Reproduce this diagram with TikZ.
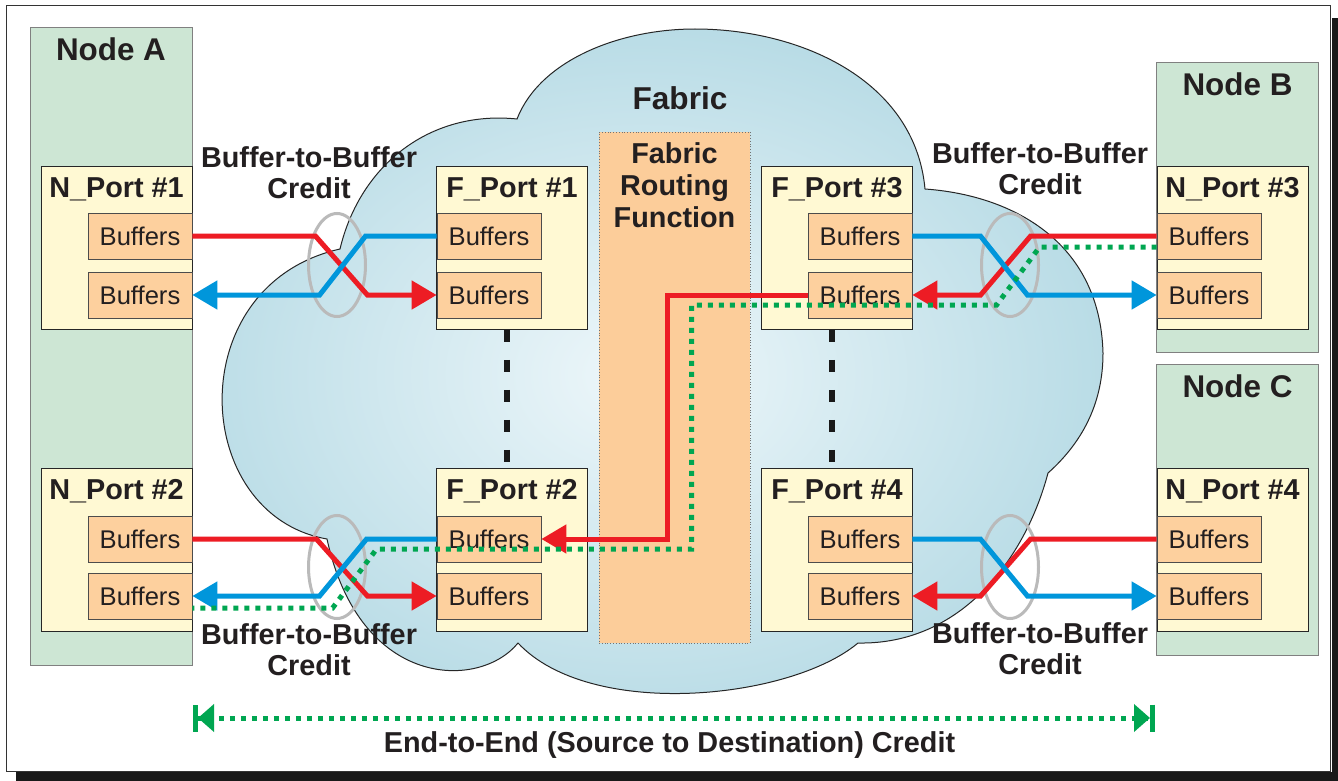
\documentclass[tikz,border=0pt]{standalone}
\usepackage{fontspec}
\setmainfont{Liberation Sans}
\usetikzlibrary{arrows.meta,calc,shapes.geometric}

\definecolor{nodegreen}{HTML}{CDE6D4}
\definecolor{portyellow}{HTML}{FFF9D3}
\definecolor{bufpeach}{HTML}{FDD09E}
\definecolor{routepeach}{HTML}{FCCD9A}
\definecolor{fcred}{HTML}{ED1C24}
\definecolor{fcblue}{HTML}{0096DB}
\definecolor{fcgreen}{HTML}{00A651}
\definecolor{cloudedge}{HTML}{B9DCE6}
\definecolor{cloudmid}{HTML}{EEF7FA}
\definecolor{inkdark}{HTML}{231F20}

\begin{document}
\begin{tikzpicture}[
  x=0.5pt, y=-0.5pt,
  font=\fontsize{14.4}{15.5}\selectfont\bfseries,
  text=inkdark,
  nodebox/.style={draw=black!50, fill=nodegreen, minimum width=81pt, inner sep=0pt},
  nodetitle/.style={anchor=base, yshift=-17pt, font=\fontsize{15.7}{17}\selectfont\bfseries},
  port/.style={draw=black!85, fill=portyellow, minimum width=75.5pt, minimum height=81.5pt, inner sep=0pt},
  porttitle/.style={anchor=base, yshift=-15.6pt},
  buf/.style={draw=black!70, fill=bufpeach, minimum width=52pt, minimum height=23pt, inner sep=0pt, font=\fontsize{12.8}{14}\selectfont},
  credit/.style={draw=black!27, line width=1.5pt, ellipse, minimum width=28.5pt, minimum height=51.5pt, inner sep=0pt},
  flow/.style={line width=2.5pt, -{Triangle[length=12.5pt,width=14pt]}},
  dots/.style={draw=fcgreen, line width=2.5pt, dash pattern=on 2.5pt off 3pt},
  link/.style={draw=black!90, line width=3pt, dash pattern=on 6pt off 9pt},
  e2etip/.style={{Bar[width=13.5pt]Triangle[length=8pt,width=13.5pt]}-{Triangle[length=8pt,width=13.5pt]Bar[width=13.5pt]}}]
\useasboundingbox (0,0) rectangle (1338,781);
% frame with drop shadow
\fill[black!90] (16,18) rectangle (1338,781);
\fill[white] (6,6) rectangle (1332,772);
\draw[black!80, line width=0.5pt] (6,6) rectangle (1330,771);

% the fabric cloud
\shade[draw=black!85, line width=0.5pt, inner color=cloudmid, outer color=cloudedge]
  (340,249) .. controls (360,165) and (430,110) .. (517,119)
  .. controls (540,60) and (620,29) .. (695,29)
  .. controls (800,29) and (915,80) .. (925,189)
  .. controls (1010,195) and (1100,240) .. (1103,353)
  .. controls (1103,400) and (1085,440) .. (1048,473)
  .. controls (1025,560) and (960,645) .. (858,643)
  .. controls (790,700) and (590,720) .. (518,643)
  .. controls (480,690) and (360,690) .. (327,539)
  .. controls (190,515) and (180,285) .. (340,249) -- cycle;
\node[anchor=base, font=\fontsize{15.8}{17}\selectfont\bfseries] (fabric) at (680,110) {Fabric};
\node[draw=black!55, densely dotted, fill=routepeach, minimum width=75.5pt, minimum height=255.5pt, inner sep=0pt,
  label={[anchor=north, inner sep=0pt, yshift=-5.5pt, align=center, font=\fontsize{14.4}{16}\selectfont\bfseries]north:Fabric\\Routing\\Function}] (route) at (674.5,387.5) {};

% nodes
\node[nodebox, minimum height=319pt, label={[nodetitle]north:Node A}] (nodeA) at (111,346) {};
\node[nodebox, minimum height=145pt, label={[nodetitle]north:Node B}] (nodeB) at (1237.5,207) {};
\node[nodebox, minimum height=145.5pt, label={[nodetitle]north:Node C}] (nodeC) at (1237.5,509.5) {};

% ports
\node[port, label={[porttitle]north:N\_Port \#1}] (np1) at (116.5,248) {};
\node[port, label={[porttitle]north:N\_Port \#2}] (np2) at (116.5,550) {};
\node[port, label={[porttitle]north:F\_Port \#1}] (fp1) at (512,248) {};
\node[port, label={[porttitle]north:F\_Port \#2}] (fp2) at (512,550) {};
\node[port, label={[porttitle]north:F\_Port \#3}] (fp3) at (837,248) {};
\node[port, label={[porttitle]north:F\_Port \#4}] (fp4) at (837,550) {};
\node[port, label={[porttitle]north:N\_Port \#3}] (np3) at (1232.5,248) {};
\node[port, label={[porttitle]north:N\_Port \#4}] (np4) at (1232.5,550) {};

% buffers
\node[buf] (np1a) at (140,236) {Buffers};
\node[buf] (np1b) at (140,295) {Buffers};
\node[buf] (np2a) at (140,539) {Buffers};
\node[buf] (np2b) at (140,596) {Buffers};
\node[buf] (fp1a) at (489,236) {Buffers};
\node[buf] (fp1b) at (489,295) {Buffers};
\node[buf] (fp2a) at (489,539) {Buffers};
\node[buf] (fp2b) at (489,596) {Buffers};
\node[buf] (fp3a) at (860,236) {Buffers};
\node[buf] (fp3b) at (860,295) {Buffers};
\node[buf] (fp4a) at (860,539) {Buffers};
\node[buf] (fp4b) at (860,596) {Buffers};
\node[buf] (np3a) at (1209,236) {Buffers};
\node[buf] (np3b) at (1209,295) {Buffers};
\node[buf] (np4a) at (1209,539) {Buffers};
\node[buf] (np4b) at (1209,596) {Buffers};

\draw[link] ($(fp1.south)+(-5,0)$) -- ($(fp2.north)+(-5,0)$);
\draw[link] ($(fp3.south)+(-5,0)$) -- ($(fp4.north)+(-5,0)$);

% buffer-to-buffer credit hops
\node[credit] (hop1) at (337,265) {};
\node[credit] (hop2) at (337,567) {};
\node[credit] (hop3) at (1010,265) {};
\node[credit] (hop4) at (1010,567) {};
\draw[flow, fcred] (np1a.east) -- ++(123,0) -- ++(52,59) -- (fp1b.west);
\draw[flow, fcblue] (fp1a.west) -- ++(-71,0) -- ++(-46,59) -- (np1b.east);
\draw[flow, fcred] (np2a.east) -- ++(124,0) -- ++(51,57) -- (fp2b.west);
\draw[flow, fcblue] (fp2a.west) -- ++(-70,0) -- ++(-47,57) -- (np2b.east);
\draw[flow, fcred] (np3a.west) -- ++(-126,0) -- ++(-50,59) -- (fp3b.east);
\draw[flow, fcblue] (fp3a.east) -- ++(68,0) -- ++(47,59) -- (np3b.west);
\draw[flow, fcred] (np4a.west) -- ++(-126,0) -- ++(-50,57) -- (fp4b.east);
\draw[flow, fcblue] (fp4a.east) -- ++(68,0) -- ++(47,57) -- (np4b.west);

% routed frame through the fabric
\draw[flow, fcred] (fp3b.west) -- ++(-140,0) |- (fp2a.east);
\draw[dots] ($(np3a.west)+(0,11)$) -- ++(-117,0) -- ++(-43,58) -- ++(-305,0) -- ++(0,244)
  -- ++(-315,0) -- ++(-44,59) -- ($(np2b.east)+(0,12)$);

\node[align=center] (b2bA) at (309,172.5) {Buffer-to-Buffer\\Credit};
\node[align=center] (b2bB) at (1040,169) {Buffer-to-Buffer\\Credit};
\node[align=center] (b2bC) at (309,649.5) {Buffer-to-Buffer\\Credit};
\node[align=center] (b2bD) at (1040,649) {Buffer-to-Buffer\\Credit};

% end-to-end credit
\coordinate (srcend) at (193,718);
\coordinate (dstend) at (1155,718);
\draw[dots, e2etip] (srcend) -- (dstend);
\node[anchor=base] (e2e) at (669.5,752) {End-to-End (Source to Destination) Credit};
\end{tikzpicture}
\end{document}
